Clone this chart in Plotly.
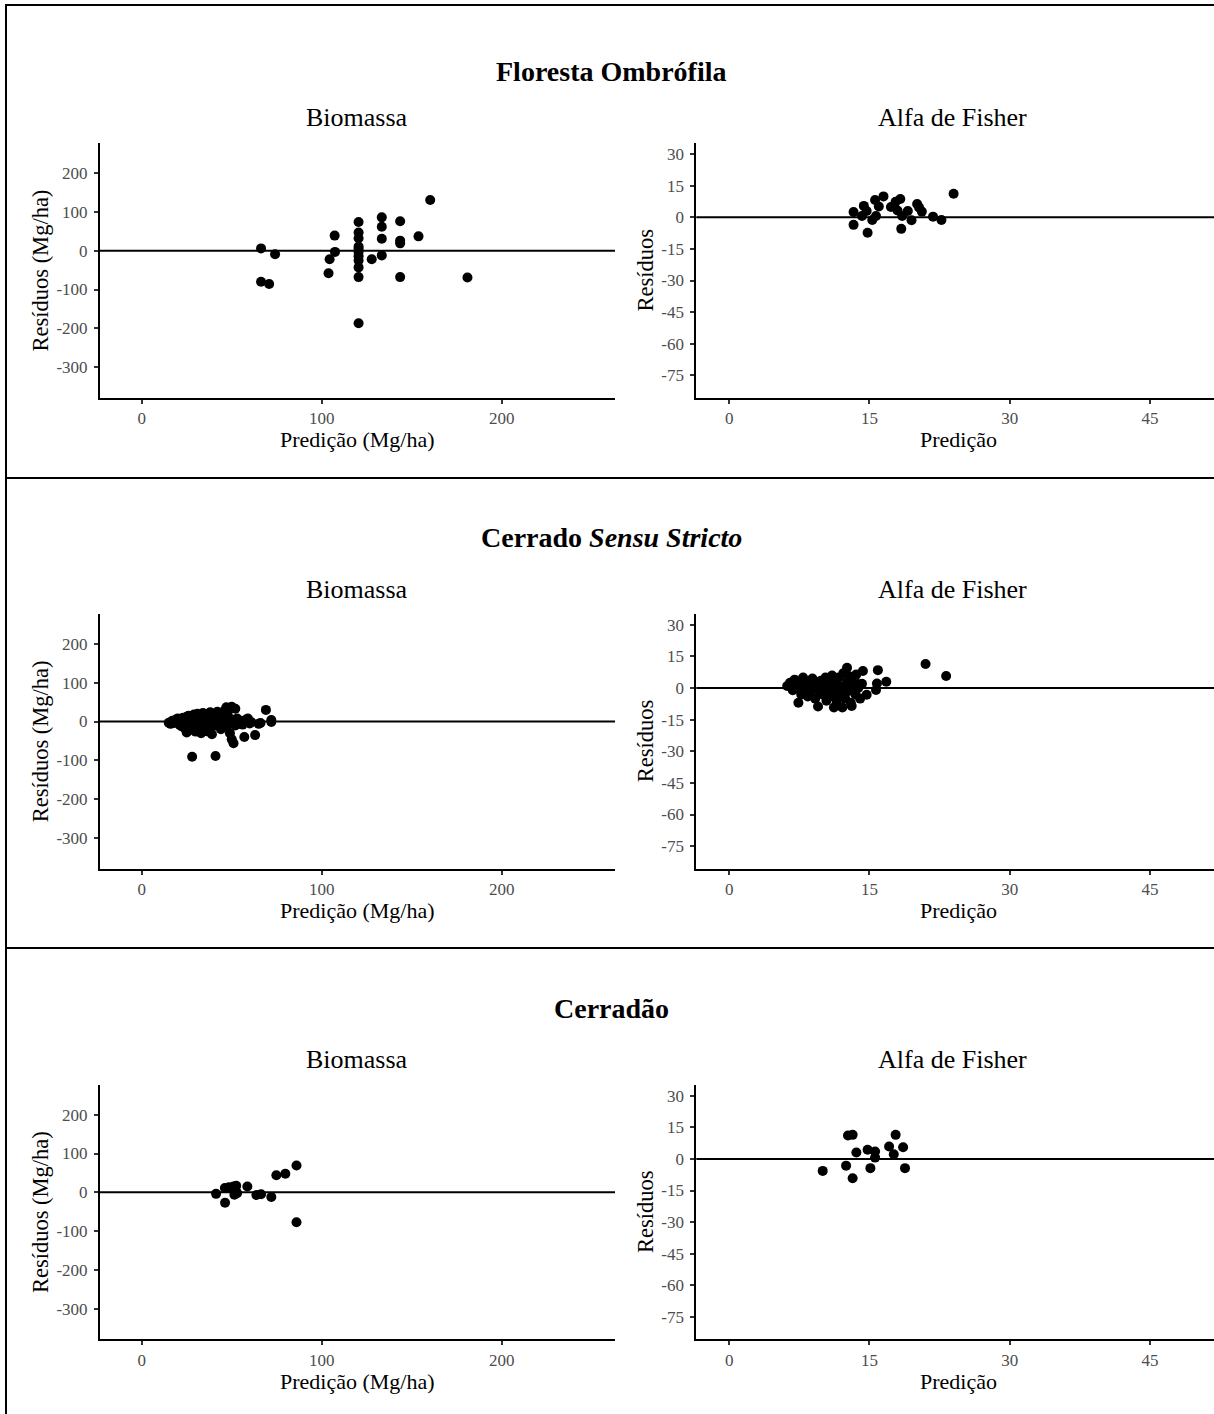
import plotly.graph_objects as go

W, H = 1214, 1414
FONT = "Liberation Serif"

# ---------------- data ----------------
row_titles = ["<b>Floresta Ombrófila</b>", "<b>Cerrado <i>Sensu Stricto</i></b>", "<b>Cerradão</b>"]
panel_titles = ["Biomassa", "Alfa de Fisher"]
ylab = ["Resíduos (Mg/ha)", "Resíduos"]
xlab = ["Predição (Mg/ha)", "Predição"]

bio_xticks = [0, 100, 200]
bio_yticks = [-300, -200, -100, 0, 100, 200]
alfa_xticks = [0, 15, 30, 45]
alfa_yticks = [-75, -60, -45, -30, -15, 0, 15, 30]

# Floresta Ombrófila - Biomassa
fo_bio_x = [66.3, 66.3, 70.8, 74.1, 107.2, 107.4, 104.4, 103.8,
            120.5, 120.5, 120.5, 120.5, 120.5, 120.5, 120.5, 120.5, 120.5, 120.5, 120.5,
            127.8, 133.4, 133.4, 133.4, 133.4, 143.6, 143.6, 143.6, 143.6, 153.8, 160.3, 181.0]
fo_bio_y = [6, -80, -86, -9, 39, -3, -22, -58,
            74, 47, 32, 11, 5, -3, -14, -25, -43, -68, -187,
            -22, 86, 62, 31, -12, 76, 26, 19, -68, 37, 131, -69]

# Floresta Ombrófila - Alfa de Fisher
fo_alfa_x = [13.3, 13.3, 14.4, 14.2, 14.7, 14.8, 15.3, 15.6, 15.7, 16.0, 16.5, 17.3, 17.8,
             18.0, 18.3, 18.5, 18.4, 19.1, 19.5, 20.1, 20.3, 20.6, 21.8, 22.7, 24.0]
fo_alfa_y = [2.5, -3.6, 5.4, 0.6, 3.0, -7.3, -1.3, 8.2, 0.6, 5.1, 9.9, 4.9, 7.4,
             3.2, 8.7, 0.6, -5.5, 3.0, -1.4, 6.3, 4.7, 2.7, 0.3, -1.3, 11.2]

# Cerrado Sensu Stricto - Biomassa
css_bio_x = [15, 16, 17, 18, 19, 20, 20, 21, 22, 22, 23, 23, 24, 24, 25, 25, 25, 26, 26, 27,
             27, 28, 28, 28, 29, 29, 30, 30, 30, 31, 31, 32, 32, 33, 33, 33, 34, 34, 35, 35,
             36, 36, 37, 37, 38, 38, 39, 39, 40, 40, 41, 41, 42, 42, 43, 43, 44, 44, 45, 45,
             46, 46, 47, 47, 48, 48, 49, 49, 50, 50, 50, 51, 51, 52, 52, 53, 53, 54, 55, 56,
             57, 58, 59, 60, 61, 63, 65, 66, 69, 72, 72]
css_bio_y = [-3, -6, 2, -4, 5, -2, 8, -8, 3, -12, 10, -5, -18, 6, -28, 0, 12, -10, 15, 4,
             -22, -91, 9, -4, 18, -15, -26, 2, 12, -8, 20, 6, -20, -30, 16, -2, 22, 10, -12, 3,
             -25, 18, 8, -5, 24, -18, 12, -33, 2, 20, -89, -10, 6, 25, -3, 15, -20, 10, 22, -8,
             3, 28, -15, 37, 12, -4, 32, -30, 38, -46, 5, -56, -2, 33, -10, 8, -6, -3, 2, -8,
             -40, 5, 8, -5, -2, -35, -6, -4, 30, -1, 4]

# Cerrado Sensu Stricto - Alfa de Fisher
css_alfa_x = [6.2, 6.5, 6.8, 7.0, 7.2, 7.4, 7.5, 7.7, 7.9, 8.0, 8.2, 8.4, 8.5, 8.7, 8.9, 9.0,
              9.2, 9.3, 9.5, 9.6, 9.8, 10.0, 10.1, 10.3, 10.4, 10.5, 10.7, 10.8, 11.0, 11.0,
              11.2, 11.3, 11.4, 11.5, 11.7, 11.8, 12.0, 12.1, 12.2, 12.3, 12.4, 12.6, 12.6,
              12.7, 12.9, 13.0, 13.1, 13.2, 13.4, 13.5, 13.6, 13.8, 14.0, 14.3, 14.2, 14.7,
              15.7, 15.8, 15.9, 16.8, 21.0, 23.2]
css_alfa_y = [1, 2.5, -1, 4, 0, -7, 2, -3, 5, -1, 1.5, -4, 3, -2, 4.5, 0,
              -5, 2, -8.7, -1, 3.5, -3, 1, 5, -6, -1.5, 2.5, -4, 6, 0,
              -9.2, 3, -2, -6.5, 5, 1, -3, -9.2, 7, 0.5, -5, 9.6, 3,
              -1.5, 5.5, -7, -8.5, 1, 4, -3, 6.5, 0, -5, 8.1, 2, -3.2,
              -0.9, 2.2, 8.5, 3.0, 11.4, 5.7]

# Cerradão - Biomassa
cd_bio_x = [41.3, 46.3, 46.2, 48.5, 51.0, 52.5, 51.5, 53.0, 52.0, 58.7, 63.7, 66.3, 72.0,
            74.8, 79.8, 86.0, 86.0]
cd_bio_y = [-4, -27, 11, 13, 15, 17, -6, -2, 7, 15, -7, -5, -12, 44, 48, 69, -77]

# Cerradão - Alfa de Fisher
cd_alfa_x = [10.0, 12.5, 12.7, 13.2, 13.2, 13.6, 14.8, 15.1, 15.6, 15.6, 17.1, 17.8, 17.6, 18.6, 18.8]
cd_alfa_y = [-5.7, -3.2, 11.1, 11.4, -9.2, 3.0, 4.3, -4.4, 3.5, 0.6, 5.9, 11.4, 2.2, 5.5, -4.4]

panels = [
    (fo_bio_x, fo_bio_y), (fo_alfa_x, fo_alfa_y),
    (css_bio_x, css_bio_y), (css_alfa_x, css_alfa_y),
    (cd_bio_x, cd_bio_y), (cd_alfa_x, cd_alfa_y),
]

# ---------------- layout helpers ----------------
def px(x):
    return x / W

def py(y):
    return 1 - y / H

ROW_DY = 470.8
PLOT_TOP, PLOT_BOT = 143.3, 397.7
COLS = [(100, 615), (696.3, 1214)]
RANGES_X = [[-23.2, 263.0], [-3.52, 51.85]]
RANGES_Y = [[-379, 277], [-85.6, 35.1]]
TITLE_Y = [72, 538, 1008]
SUB_Y = [118, 589, 1059]
SUB_X = [357, 952]
XLAB_X = [357, 958]
YLAB_X = [40, 645]

fig = go.Figure()
layout = dict(
    width=W, height=H,
    margin=dict(l=0, r=0, t=0, b=0),
    paper_bgcolor="white", plot_bgcolor="white",
    showlegend=False,
    font=dict(family=FONT, color="black"),
)
shapes = []
annotations = []

for i, (xs, ys) in enumerate(panels):
    r, c = divmod(i, 2)
    n = i + 1
    sx = "" if n == 1 else str(n)
    top = PLOT_TOP + r * ROW_DY
    bot = PLOT_BOT + r * ROW_DY
    x0, x1 = COLS[c]
    xt = bio_xticks if c == 0 else alfa_xticks
    yt = bio_yticks if c == 0 else alfa_yticks
    fig.add_trace(go.Scatter(
        x=xs, y=ys, mode="markers",
        marker=dict(color="black", size=10, line=dict(width=0)),
        xaxis="x" + sx, yaxis="y" + sx, hoverinfo="skip"))
    common = dict(showline=True, linecolor="black", linewidth=2, ticks="outside",
                  ticklen=4, tickwidth=1.5, tickcolor="#333333",
                  tickfont=dict(family=FONT, size=17, color="#4d4d4d"),
                  showgrid=False, zeroline=False, fixedrange=True)
    layout["xaxis" + sx] = dict(domain=[px(x0), px(x1)], anchor="y" + sx,
                                range=RANGES_X[c], tickvals=xt,
                                ticktext=[str(v) for v in xt],
                                ticklabelstandoff=0, **common)
    layout["yaxis" + sx] = dict(domain=[py(bot), py(top)], anchor="x" + sx,
                                range=RANGES_Y[c], tickvals=yt,
                                ticktext=[str(v) for v in yt],
                                ticklabelstandoff=3, **common)
    # zero reference line
    shapes.append(dict(type="line", xref="x" + sx + " domain", yref="y" + sx,
                       x0=0, x1=1, y0=0, y1=0, line=dict(color="black", width=2)))
    # panel title
    annotations.append(dict(text=panel_titles[c], x=px(SUB_X[c]), y=py(SUB_Y[r]),
                            xref="paper", yref="paper", showarrow=False,
                            xanchor="center", yanchor="middle",
                            font=dict(family=FONT, size=26, color="black")))
    # axis titles
    annotations.append(dict(text=xlab[c], x=px(XLAB_X[c]), y=py(440 + r * ROW_DY),
                            xref="paper", yref="paper", showarrow=False,
                            xanchor="center", yanchor="middle",
                            font=dict(family=FONT, size=22, color="black")))
    annotations.append(dict(text=ylab[c], x=px(YLAB_X[c]), y=py((top + bot) / 2),
                            xref="paper", yref="paper", showarrow=False, textangle=-90,
                            xanchor="center", yanchor="middle",
                            font=dict(family=FONT, size=22.5, color="black")))

for r in range(3):
    annotations.append(dict(text=row_titles[r], x=px(611), y=py(TITLE_Y[r]),
                            xref="paper", yref="paper", showarrow=False,
                            xanchor="center", yanchor="middle",
                            font=dict(family=FONT, size=28, color="black")))

# frame and row separators (right and bottom edges fall outside the page, as in the reference)
shapes.append(dict(type="rect", xref="paper", yref="paper",
                   x0=px(6), x1=px(1230), y0=py(1425), y1=py(5),
                   line=dict(color="black", width=2)))
for ysep in [478, 948]:
    shapes.append(dict(type="line", xref="paper", yref="paper",
                       x0=px(6), x1=px(1230), y0=py(ysep), y1=py(ysep),
                       line=dict(color="black", width=2)))

layout["shapes"] = shapes
layout["annotations"] = annotations
fig.update_layout(**layout)
fig.write_html("out.html", config={"displayModeBar": False},
               post_script="document.body.style.margin='0';document.body.style.overflow='hidden';")
